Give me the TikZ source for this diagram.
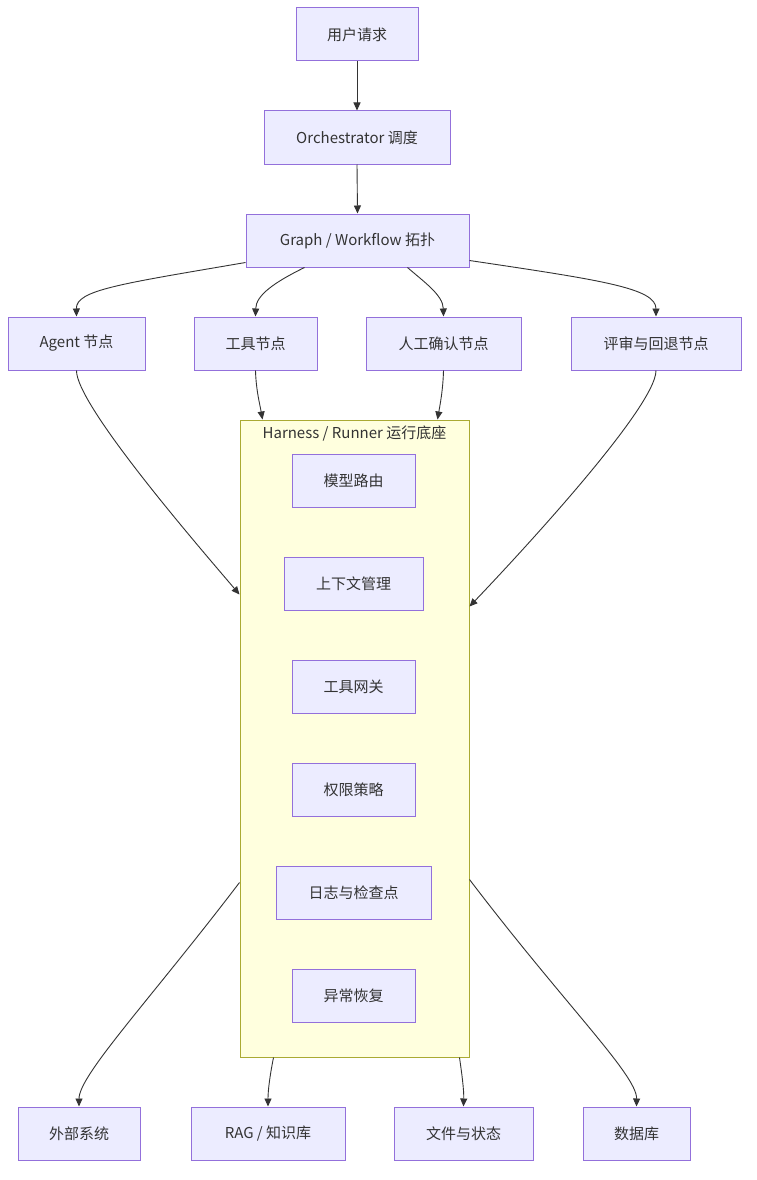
\documentclass[tikz,border=0pt]{standalone}
\usepackage{fontspec}
\setmainfont{Noto Sans CJK SC}
\usetikzlibrary{arrows.meta,calc}
\definecolor{nodefill}{HTML}{ECECFF}
\definecolor{nodeline}{HTML}{9370DB}
\definecolor{clfill}{HTML}{FFFFDE}
\definecolor{clline}{HTML}{AAAA33}
\definecolor{edge}{HTML}{333333}
\definecolor{txt}{HTML}{333333}
\tikzset{
  box/.style={draw=nodeline, fill=nodefill, line width=1pt, minimum height=53pt, inner sep=0pt, text=txt, font=\fontsize{15}{18}\selectfont},
  clbox/.style={draw=clline, fill=clfill, line width=1pt, inner sep=0pt},
  arr/.style={draw=edge, line width=0.9pt, -{Triangle[length=8pt,width=7pt]}},
}
\begin{document}
\begin{tikzpicture}[x=1pt,y=-1pt]
\path[fill=white] (0,0) rectangle (757,1180);
\useasboundingbox (0,0) rectangle (757,1180);
% top chain
\node[box, minimum width=122pt] (req) at (357,34.5) {用户请求};
\node[box, minimum width=186pt] (orc) at (357,137.5) {Orchestrator 调度};
\node[box, minimum width=223pt] (gr) at (357.5,240.5) {Graph / Workflow 拓扑};
% node row
\node[box, minimum width=137pt] (ag) at (76.5,343.5) {Agent 节点};
\node[box, minimum width=123pt] (tl) at (255.5,343.5) {工具节点};
\node[box, minimum width=155pt] (hm) at (443.5,343.5) {人工确认节点};
\node[box, minimum width=170pt] (rv) at (656,343.5) {评审与回退节点};
% cluster
\node[clbox, minimum width=229pt, minimum height=637pt] (cl) at (354.5,738.5) {};
\node[text=txt, font=\fontsize{15}{18}\selectfont, anchor=north] (cltitle) at ($(cl.north)+(0,3)$) {Harness / Runner 运行底座};
\node[box, minimum width=123pt] (m1) at (353.5,480.5) {模型路由};
\node[box, minimum width=139pt] (m2) at (353.5,583.5) {上下文管理};
\node[box, minimum width=123pt] (m3) at (353.5,686.5) {工具网关};
\node[box, minimum width=123pt] (m4) at (353.5,789.5) {权限策略};
\node[box, minimum width=155pt] (m5) at (353.5,892.5) {日志与检查点};
\node[box, minimum width=123pt] (m6) at (353.5,995.5) {异常恢复};
% bottom row
\node[box, minimum width=122pt] (ex) at (79,1133.5) {外部系统};
\node[box, minimum width=154pt] (rag) at (268,1133.5) {RAG / 知识库};
\node[box, minimum width=139pt] (fs) at (463.5,1133.5) {文件与状态};
\node[box, minimum width=107pt] (db) at (636.5,1133.5) {数据库};
% edges
\draw[arr] (req.south) -- (orc.north);
\draw[arr] (orc.south) -- (gr.north);
\draw[arr] ($(gr.south west)+(0,-5)$) .. controls (120,284) and (76,290) .. (ag.north);
\draw[arr] ($(gr.south west)+(59,0)$) .. controls (275,282) and (256,295) .. (tl.north);
\draw[arr] ($(gr.south west)+(162,0)$) .. controls (424,282) and (443,295) .. (hm.north);
\draw[arr] ($(gr.south east)+(0,-7)$) .. controls (600,280) and (656,288) .. (rv.north);
\draw[arr] (ag.south) .. controls (76,405) and (200,548) .. ($(cl.north west)+(0,175)$);
\draw[arr] (tl.south) .. controls (256,390) and (260,405) .. ($(cl.north west)+(23,0)$);
\draw[arr] (hm.south) .. controls (443,390) and (440,405) .. ($(cl.north west)+(198,0)$);
\draw[arr] (rv.south) .. controls (656,408) and (512,562) .. ($(cl.north east)+(0,187)$);
\draw[arr] ($(cl.north west)+(0,463)$) .. controls (150,1000) and (79,1075) .. (ex.north);
\draw[arr] ($(cl.south west)+(34,0)$) .. controls (270,1075) and (268,1090) .. (rag.north);
\draw[arr] ($(cl.south west)+(220,0)$) .. controls (462,1075) and (464,1090) .. (fs.north);
\draw[arr] ($(cl.north east)+(0,460)$) .. controls (565,1005) and (637,1075) .. (db.north);
\end{tikzpicture}
\end{document}
